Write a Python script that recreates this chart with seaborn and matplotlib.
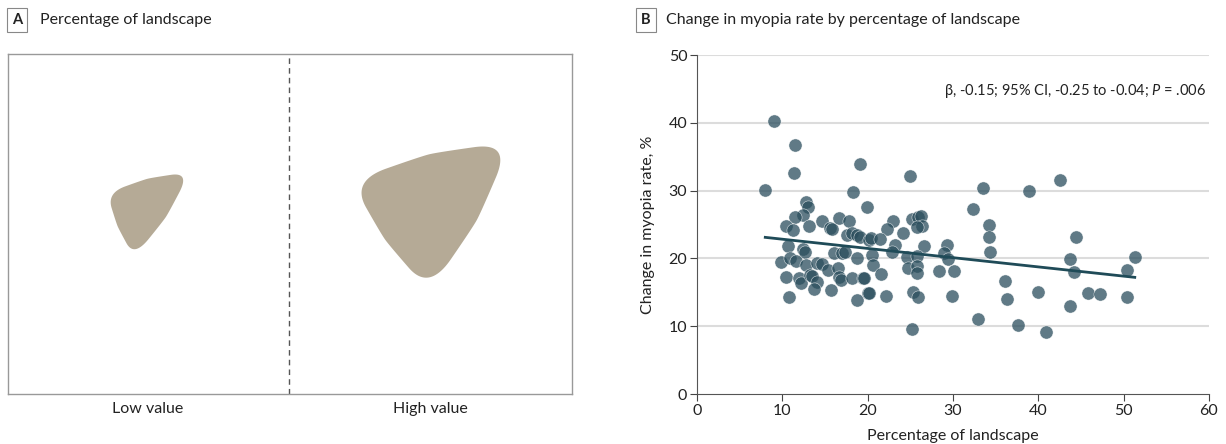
import numpy as np
import pandas as pd
import seaborn as sns
import matplotlib.pyplot as plt
from matplotlib.patches import Polygon

# panel B data
landscape_pct = [9.0, 11.5, 11.4, 8.0, 19.1, 18.3, 19.9, 12.8, 13.0, 12.4,
                 11.5, 10.4, 11.3, 13.1, 14.7, 15.6, 15.8, 16.6, 17.8, 17.6,
                 18.2, 18.8, 19.1, 20.1, 10.7, 12.4, 12.7, 9.8, 10.9, 11.6,
                 12.8, 14.1, 14.6, 15.4, 16.1, 17.0, 17.4, 16.5, 16.6, 16.9,
                 18.8, 18.2, 19.5, 10.4, 12.0, 12.2, 13.2, 13.5, 14.1, 13.7,
                 15.7, 10.8, 18.8, 20.0, 25.0, 33.5, 38.9, 32.3, 23.0, 22.3,
                 24.1, 25.2, 25.9, 26.3, 26.4, 25.8, 34.2, 34.2, 20.4, 21.4,
                 23.2, 26.6, 29.3, 34.3, 22.9, 20.5, 24.6, 25.8, 29.0, 29.4,
                 20.6, 24.7, 25.8, 25.8, 28.4, 30.1, 19.6, 21.6, 20.2, 22.1,
                 25.3, 25.9, 29.9, 25.2, 32.9, 36.1, 36.3, 37.6, 40.0, 42.5,
                 44.4, 43.7, 44.2, 51.3, 50.4, 43.7, 45.8, 47.2, 50.4, 40.9]
myopia_change = [40.2, 36.7, 32.6, 30.1, 33.9, 29.8, 27.6, 28.3, 27.6, 26.4,
                 26.1, 24.8, 24.2, 24.8, 25.5, 24.5, 24.3, 26.0, 25.5, 23.5,
                 23.8, 23.4, 23.2, 22.7, 21.8, 21.4, 20.9, 19.5, 20.1, 19.6,
                 19.0, 19.3, 19.2, 18.3, 20.8, 20.8, 20.9, 18.6, 17.3, 16.8,
                 20.1, 17.1, 17.1, 17.3, 17.1, 16.4, 17.6, 17.4, 16.5, 15.5,
                 15.3, 14.3, 13.9, 14.9, 32.2, 30.4, 29.9, 27.3, 25.5, 24.3,
                 23.7, 25.8, 26.1, 26.2, 24.8, 24.6, 24.9, 23.2, 23.0, 22.9,
                 22.0, 21.8, 22.0, 20.9, 20.9, 20.5, 20.2, 20.4, 20.8, 19.9,
                 19.0, 18.6, 18.9, 17.8, 18.1, 18.1, 17.1, 17.7, 14.9, 14.5,
                 15.0, 14.3, 14.5, 9.6, 11.1, 16.7, 14.0, 10.2, 15.0, 31.6,
                 23.2, 19.9, 18.0, 20.2, 18.3, 13.0, 14.9, 14.7, 14.3, 9.1]
x_ticks = [0, 10, 20, 30, 40, 50, 60]
y_ticks = [0, 10, 20, 30, 40, 50]

# panel A sketch: corners of the two rounded triangles (panel pixel coords)
small_blob = [(107, 193), (190, 172), (134, 257)]
large_blob = [(351, 181), (511, 142), (429, 291)]
panel_labels = ["Low value", "High value"]

fill_tan = "#b5aa96"
dot_col = "#2b4e5d"
line_col = "#1f4b58"
txt_col = "#222222"

plt.rcParams['font.family'] = ['Lato', 'DejaVu Sans']
plt.rcParams['mathtext.fontset'] = 'custom'
plt.rcParams['mathtext.it'] = 'Lato:italic'
plt.rcParams['mathtext.rm'] = 'Lato'


def blob_outline(corners, f=0.45, bulge=0.045, rounds=6):
    # rounded triangle: control polygon + Chaikin corner cutting
    pts = [np.array(c, dtype=float) for c in corners]
    cen = sum(pts) / len(pts)
    ctrl = []
    for i in range(len(pts)):
        p0, p1 = pts[i], pts[(i + 1) % len(pts)]
        d = p1 - p0
        nrm = np.array([-d[1], d[0]]) / np.hypot(*d)
        if np.dot(nrm, (p0 + p1) / 2 - cen) < 0:
            nrm = -nrm
        push = nrm * bulge * np.hypot(*d)
        ctrl += [p0, p0 + f * d + push, p0 + (1 - f) * d + push]
    poly = np.array(ctrl)
    for _ in range(rounds):
        nxt = np.roll(poly, -1, axis=0)
        q = 0.75 * poly + 0.25 * nxt
        r = 0.25 * poly + 0.75 * nxt
        poly = np.empty((2 * len(q), 2))
        poly[0::2] = q
        poly[1::2] = r
    return poly


fig = plt.figure(figsize=(12.26, 4.44), dpi=100)

# ---- panel A
axA = fig.add_axes([8 / 1226, 1 - 394 / 444, 564 / 1226, 340 / 444])
axA.set_xlim(8, 572)
axA.set_ylim(394, 54)
axA.set_xticks([])
axA.set_yticks([])
for s in axA.spines.values():
    s.set_color("#999999")
    s.set_linewidth(1)
axA.axvline(289, color="#555555", lw=1, ls=(0, (4, 3)))
axA.add_patch(Polygon(blob_outline(small_blob), closed=True, facecolor=fill_tan, edgecolor="none"))
axA.add_patch(Polygon(blob_outline(large_blob), closed=True, facecolor=fill_tan, edgecolor="none"))
fig.text(148 / 1226, 1 - 409 / 444, panel_labels[0], ha="center", va="center", fontsize=11.5, color=txt_col)
fig.text(430 / 1226, 1 - 409 / 444, panel_labels[1], ha="center", va="center", fontsize=11.5, color=txt_col)

# panel headers
for lab, bx, tx, title in [("A", 17, 40, "Percentage of landscape"),
                           ("B", 646, 666, "Change in myopia rate by percentage of landscape")]:
    fig.text(bx / 1226, 1 - 20 / 444, lab, ha="center", va="center", fontsize=10.5,
             fontweight="bold", color=txt_col,
             bbox=dict(boxstyle="square,pad=0.35", facecolor="white", edgecolor="#888888", lw=0.8))
    fig.text(tx / 1226, 1 - 20 / 444, title, ha="left", va="center", fontsize=11.5, color=txt_col)

# ---- panel B
axB = fig.add_axes([697 / 1226, 1 - 394 / 444, 512 / 1226, 339 / 444])
df = pd.DataFrame({"pct": landscape_pct, "change": myopia_change})
for yv in y_ticks[1:]:
    axB.axhline(yv, color="#dcdcdc", lw=1.5, zorder=0)
sns.scatterplot(data=df, x="pct", y="change", ax=axB, s=90, color=dot_col,
                alpha=0.75, edgecolor="white", linewidth=0.4, zorder=2)
sns.regplot(data=df, x="pct", y="change", ax=axB, scatter=False, ci=None,
            line_kws=dict(color=line_col, lw=2, zorder=3))
axB.set_xlim(0, 60)
axB.set_ylim(0, 50)
axB.set_xticks(x_ticks)
axB.set_yticks(y_ticks)
axB.spines["top"].set_visible(False)
axB.spines["right"].set_visible(False)
axB.spines["left"].set_color("#555555")
axB.spines["bottom"].set_color("#555555")
axB.tick_params(direction="out", length=5, color="#444444", labelsize=11.5, labelcolor=txt_col, pad=2)
axB.set_xlabel("Percentage of landscape", fontsize=11.5, color=txt_col, labelpad=8)
axB.set_ylabel("Change in myopia rate, %", fontsize=11.5, color=txt_col, labelpad=10)
axB.text(0.995, 0.895, r"β, -0.15; 95% CI, -0.25 to -0.04; $P$ = .006", transform=axB.transAxes,
         ha="right", va="center", fontsize=10.5, color=txt_col)

fig.savefig("out.png", dpi=100)
